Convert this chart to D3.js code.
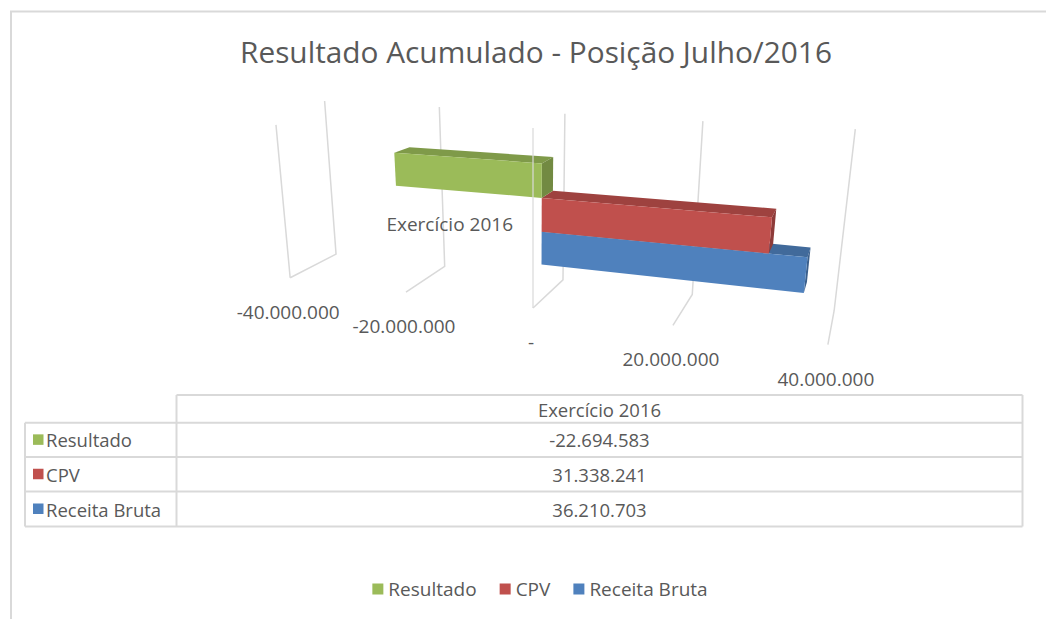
<!DOCTYPE html>
<html>
<head>
<meta charset="utf-8">
<script src="https://cdn.jsdelivr.net/npm/d3@7"></script>
<style>
  body { margin: 0; background: #ffffff; }
  text { font-family: "Open Sans", sans-serif; fill: #595959; }
</style>
</head>
<body>
<div id="chart"></div>
<script>
var chartTitle = "Resultado Acumulado - Posição Julho/2016";
var categories = ["Exercício 2016"];
var seriesNames = ["Resultado", "CPV", "Receita Bruta"];
var seriesValues = [-22694583, 31338241, 36210703];
var seriesColors = ["#9BBB59", "#C0504D", "#4F81BD"];
var tickValues = [-40000000, -20000000, 0, 20000000, 40000000];

var width = 1046, height = 619;

var ptBR = d3.formatLocale({ decimal: ",", thousands: ".", grouping: [3], currency: ["R$", ""], minus: "-" });
var numFmt = ptBR.format(",.0f");
function fmt(v) { return v === 0 ? "-" : numFmt(v); }

// 3d view, same feel as excel rotation x=20 y=20 with perspective
var rotX = 20 * Math.PI / 180, rotY = 20 * Math.PI / 180;
var focal = 941, camDist = 3.32, originX = 533, originY = 308;
var boxHeight = 0.632, boxDepth = 0.337;

function project(X, Y, Z) {
    var x1 = X * Math.cos(rotY) + Z * Math.sin(rotY);
    var z1 = -X * Math.sin(rotY) + Z * Math.cos(rotY);
    var y2 = Y * Math.cos(rotX) + z1 * Math.sin(rotX);
    var z2 = -Y * Math.sin(rotX) + z1 * Math.cos(rotX);
    var s = focal / (camDist + z2);
    return [originX + x1 * s, originY - y2 * s];
}

var x = d3.scaleLinear().domain([-40000000, 40000000]).range([-1, 1]);
var yCat = d3.scaleBand().domain(categories).range([0, boxHeight]).paddingInner(0).paddingOuter(0.37);
var ySeries = d3.scaleBand().domain(seriesNames).range([yCat.bandwidth(), 0]);
var zCat = d3.scaleBand().domain(categories).range([0, boxDepth]).paddingInner(0).paddingOuter(0.9).align(0.41);

var svg = d3.select("#chart")
    .append("svg")
    .attr("width", width)
    .attr("height", height)
    .style("display", "block");

svg.append("rect").attr("width", width).attr("height", height).attr("fill", "#ffffff");

// chart area border (right and bottom run off the picture)
svg.append("path")
    .attr("d", "M11,640V11.5H1060")
    .attr("fill", "none")
    .attr("stroke", "#d9d9d9")
    .attr("stroke-width", 2);

svg.append("text")
    .attr("x", 536)
    .attr("y", 51)
    .attr("text-anchor", "middle")
    .attr("dominant-baseline", "central")
    .style("font-size", "29.8px")
    .text(chartTitle);

var line = d3.line();
var grid = svg.append("g")
    .attr("fill", "none")
    .attr("stroke", "#d9d9d9")
    .attr("stroke-width", 1.5);

// back wall + floor gridlines
grid.selectAll(".gl")
    .data(tickValues)
    .enter()
    .append("path")
    .attr("class", "gl")
    .attr("d", function (d) {
        return line([project(x(d), 0, 0), project(x(d), 0, boxDepth), project(x(d), boxHeight, boxDepth)]);
    });

// side wall front edge
grid.append("path")
    .attr("d", line([project(x(tickValues[0]), 0, 0), project(x(tickValues[0]), boxHeight * 0.93, 0)]));

// bars
var cat = categories[0];
var bars = seriesNames.map(function (name, i) {
    var v = seriesValues[i];
    return {
        name: name,
        color: seriesColors[i],
        x0: x(Math.min(0, v)), x1: x(Math.max(0, v)),
        y0: yCat(cat) + ySeries(name), y1: yCat(cat) + ySeries(name) + ySeries.bandwidth(),
        z0: zCat(cat), z1: zCat(cat) + zCat.bandwidth()
    };
});

// paint from the lowest bar up
bars.slice().reverse().forEach(function (b) {
    var g = svg.append("g");
    var top = [project(b.x0, b.y1, b.z0), project(b.x1, b.y1, b.z0), project(b.x1, b.y1, b.z1), project(b.x0, b.y1, b.z1)];
    var side = [project(b.x1, b.y0, b.z0), project(b.x1, b.y1, b.z0), project(b.x1, b.y1, b.z1), project(b.x1, b.y0, b.z1)];
    var front = [project(b.x0, b.y0, b.z0), project(b.x1, b.y0, b.z0), project(b.x1, b.y1, b.z0), project(b.x0, b.y1, b.z0)];
    g.append("path").attr("d", line(top) + "Z").attr("fill", d3.color(b.color).darker(0.55));
    g.append("path").attr("d", line(side) + "Z").attr("fill", d3.color(b.color).darker(0.85));
    g.append("path").attr("d", line(front) + "Z").attr("fill", b.color);
});

// category axis line at zero, in front of the bars
svg.append("path")
    .attr("d", line([project(x(0), 0, 0), project(x(0), boxHeight, 0)]))
    .attr("fill", "none")
    .attr("stroke", "#d9d9d9")
    .attr("stroke-opacity", 0.8)
    .attr("stroke-width", 1.5);

svg.selectAll(".tick-label")
    .data(tickValues)
    .enter()
    .append("text")
    .attr("class", "tick-label")
    .attr("x", function (d) { return project(x(d), 0, 0)[0] - 2; })
    .attr("y", function (d) { return project(x(d), 0, 0)[1] + 34; })
    .attr("text-anchor", "middle")
    .attr("dominant-baseline", "central")
    .style("font-size", "19px")
    .text(fmt);

var catPos = project(x(0), yCat(cat) + yCat.bandwidth() / 2, 0);
svg.append("text")
    .attr("x", catPos[0] - 20)
    .attr("y", catPos[1] + 3)
    .attr("text-anchor", "end")
    .attr("dominant-baseline", "central")
    .style("font-size", "19px")
    .text(cat);

// data table
var tblLeft = 25, tblCol = 176.5, tblRight = 1022.5;
var rowY = [395, 422.7, 457, 491.5, 526.5];
var tbl = svg.append("g");
var tblLines = [
    [[tblCol, rowY[0]], [tblRight, rowY[0]]],
    [[tblCol, rowY[0]], [tblCol, rowY[4]]],
    [[tblRight, rowY[0]], [tblRight, rowY[4]]],
    [[tblLeft, rowY[1]], [tblLeft, rowY[4]]]
];
rowY.slice(1).forEach(function (yy) { tblLines.push([[tblLeft, yy], [tblRight, yy]]); });
tbl.selectAll("path")
    .data(tblLines)
    .enter()
    .append("path")
    .attr("d", function (d) { return line(d); })
    .attr("stroke", "#d9d9d9")
    .attr("stroke-width", 2)
    .attr("fill", "none");

tbl.append("text")
    .attr("x", (tblCol + tblRight) / 2)
    .attr("y", (rowY[0] + rowY[1]) / 2 + 1)
    .attr("text-anchor", "middle")
    .attr("dominant-baseline", "central")
    .style("font-size", "18.5px")
    .text(cat);

seriesNames.forEach(function (name, i) {
    var cy = (rowY[i + 1] + rowY[i + 2]) / 2;
    tbl.append("rect")
        .attr("x", 33).attr("y", cy - 5.5)
        .attr("width", 10.5).attr("height", 10.5)
        .attr("fill", seriesColors[i]);
    tbl.append("text")
        .attr("x", 46).attr("y", cy)
        .attr("dominant-baseline", "central")
        .style("font-size", "18.5px")
        .text(name);
    tbl.append("text")
        .attr("x", (tblCol + tblRight) / 2).attr("y", cy)
        .attr("text-anchor", "middle")
        .attr("dominant-baseline", "central")
        .style("font-size", "18.5px")
        .text(fmt(seriesValues[i]));
});

// legend
var legend = svg.append("g");
var lx = 0;
seriesNames.forEach(function (name, i) {
    var item = legend.append("g").attr("transform", "translate(" + lx + ",0)");
    item.append("rect").attr("x", 0).attr("y", -5.5).attr("width", 11).attr("height", 11).attr("fill", seriesColors[i]);
    var t = item.append("text")
        .attr("x", 16)
        .attr("dominant-baseline", "central")
        .style("font-size", "19px")
        .text(name);
    lx += 16 + t.node().getComputedTextLength() + 23;
});
lx -= 23;
legend.attr("transform", "translate(" + (540 - lx / 2) + ",589)");
</script>
</body>
</html>
